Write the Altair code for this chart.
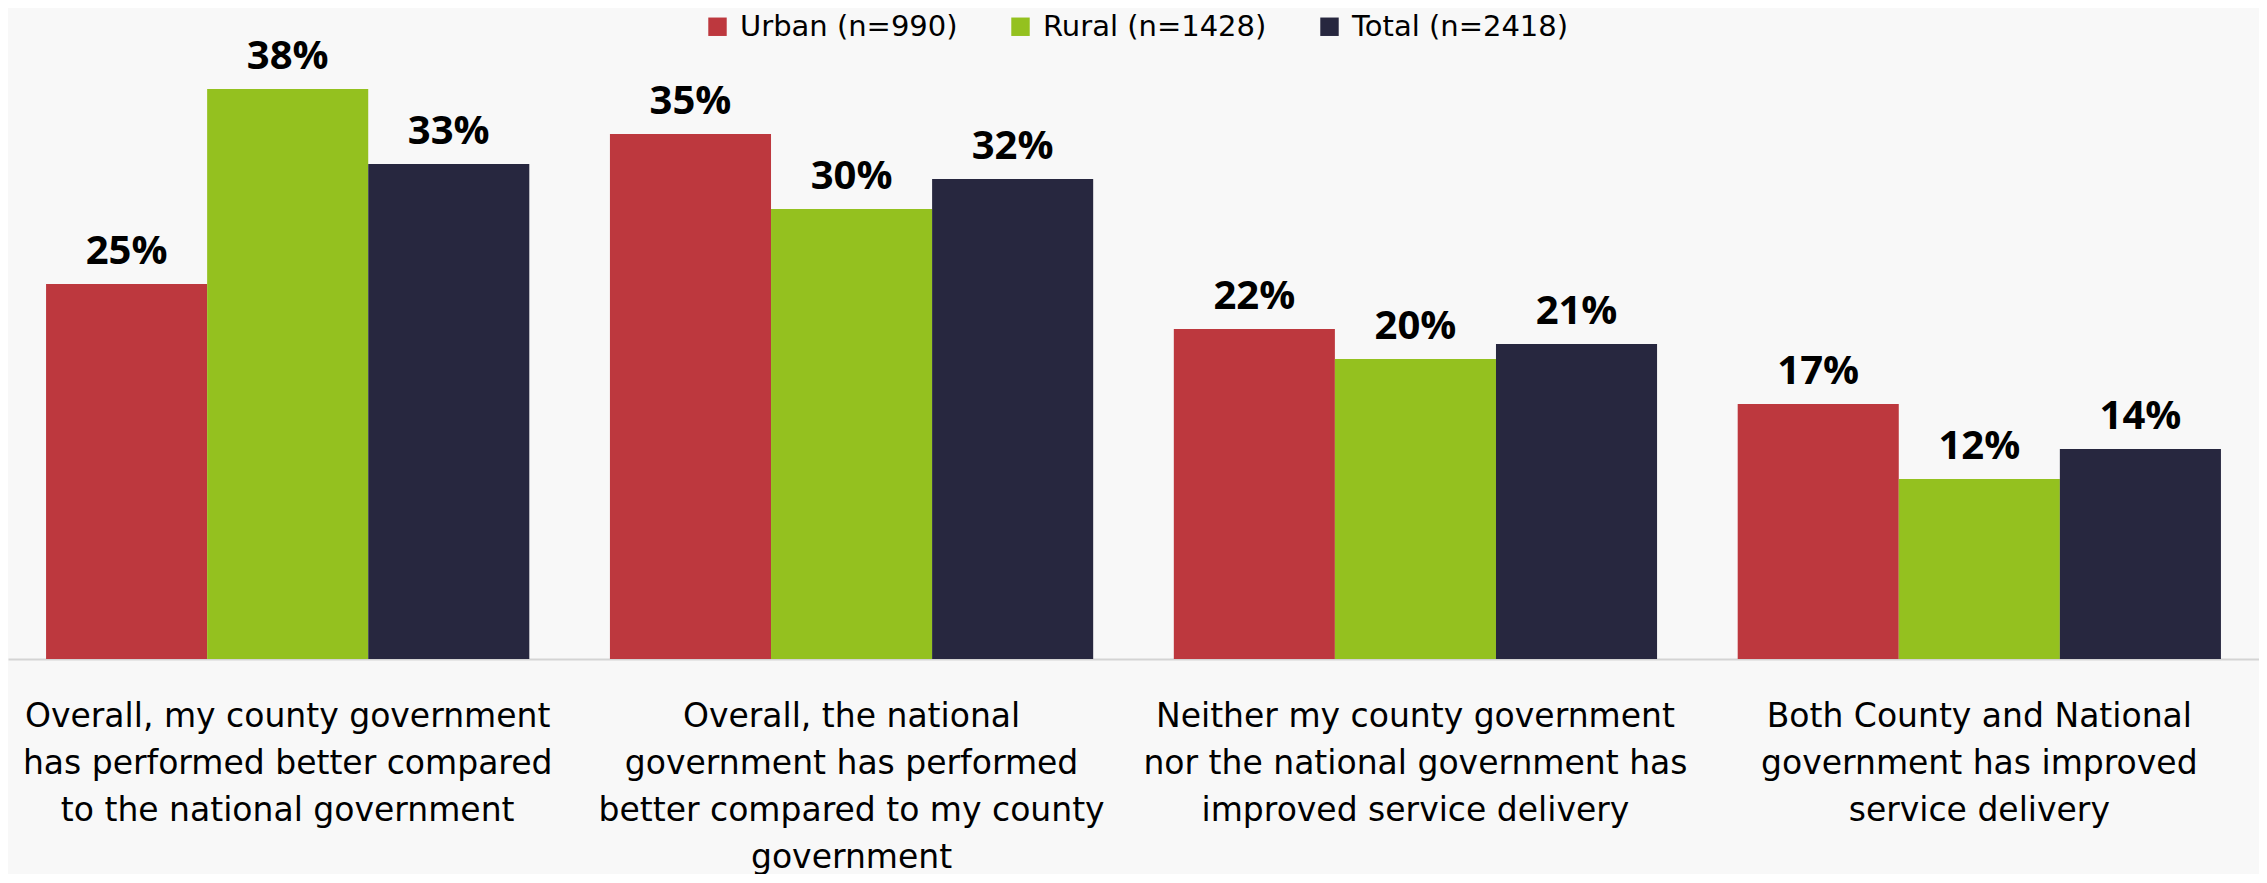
import altair as alt
import pandas as pd

categories = [
    "Overall, my county government|has performed better compared|to the national government",
    "Overall, the national|government has performed|better compared to my county|government",
    "Neither my county government|nor the national government has|improved service delivery",
    "Both County and National|government has improved|service delivery",
]
series = ["Urban (n=990)", "Rural (n=1428)", "Total (n=2418)"]
urban = [25, 35, 22, 17]
rural = [38, 30, 20, 12]
total = [33, 32, 21, 14]
colors = ["#BD383E", "#94C11F", "#27273F"]

rows = []
for s, vals in zip(series, [urban, rural, total]):
    for c, v in zip(categories, vals):
        rows.append({"category": c, "series": s, "value": v, "label": f"{v}%"})
df = pd.DataFrame(rows)

AXFONT = "DejaVu Sans"
LBLFONT = "Open Sans"

base = alt.Chart(df).encode(
    x=alt.X(
        "category:N",
        sort=categories,
        title=None,
        scale=alt.Scale(paddingInner=0.143, paddingOuter=0.0675),
        axis=alt.Axis(
            labelExpr="split(datum.label, '|')",
            labelAngle=0,
            labelFont=AXFONT,
            labelFontSize=33,
            labelColor="black",
            labelLineHeight=47,
            labelLimit=0,
            labelPadding=41,
            ticks=False,
            tickSize=0,
            domainColor="#d4d4d4",
            domainWidth=2,
            grid=False,
        ),
    ),
    xOffset=alt.XOffset("series:N", sort=series, scale=alt.Scale(paddingInner=0, paddingOuter=0)),
    y=alt.Y("value:Q", scale=alt.Scale(domain=[0, 40]), axis=None),
)

bars = base.mark_bar().encode(
    color=alt.Color(
        "series:N",
        sort=series,
        scale=alt.Scale(domain=series, range=colors),
        legend=alt.Legend(
            title=None,
            orient="none",
            legendX=695,
            legendY=-47,
            direction="horizontal",
            symbolType="square",
            symbolSize=340,
            symbolStrokeWidth=0,
            symbolOpacity=1,
            labelFont=AXFONT,
            labelFontSize=29,
            labelColor="black",
            labelOffset=8,
            columnPadding=48,
            padding=0,
            labelLimit=0,
        ),
    )
)

text = base.mark_text(
    baseline="alphabetic", dy=-20, font=LBLFONT, fontWeight="bold", fontSize=40, color="black"
).encode(text="label:N")

chart = (
    alt.layer(bars, text)
    .properties(
        width=2251,
        height=600,
        background="#f8f8f8",
        padding={"left": 0, "top": 4, "right": 0, "bottom": 0},
    )
    .configure_view(stroke=None)
)

chart.save("out.html", embed_options={"renderer": "svg", "actions": False})
